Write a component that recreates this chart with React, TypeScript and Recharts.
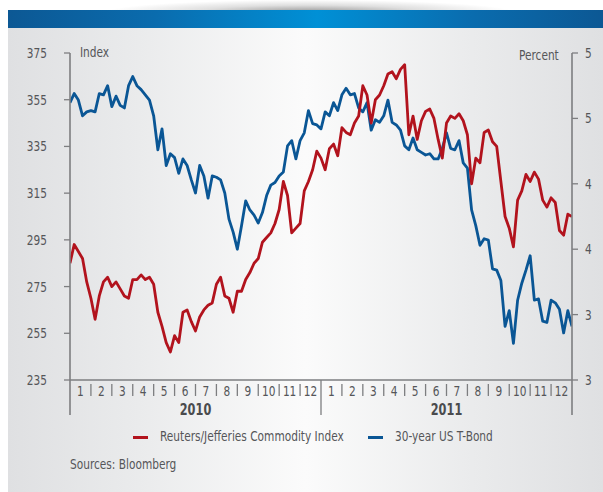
import React from 'react';
import { LineChart, Line, XAxis, YAxis } from 'recharts';

const FONT = "'DejaVu Sans Condensed', 'Liberation Sans Narrow', 'Arial Narrow', sans-serif";
const TEXT = '#555659';
const AXIS = '#7d7e80';
const RED = '#b2131d';
const BLUE = '#0a5695';
// horizontal squeeze applied to all text to get a narrow face
const SQUEEZE = 0.84;

const W = 603;
const H = 492;

const years = ['2010', '2011'];
const monthLabels = ['1', '2', '3', '4', '5', '6', '7', '8', '9', '10', '11', '12'];
const indexTicks = [235, 255, 275, 295, 315, 335, 355, 375];
const yieldTicks = [2.5, 3, 3.5, 4, 4.5, 5];

// Weekly samples (five per month) from January 2010 to December 2011
const commodityIndex = [
  285, 293, 290, 287, 277, 270, 261, 271, 277, 279,
  275, 277, 274, 271, 270, 278, 278, 280, 278, 279,
  276, 264, 258, 251, 247, 254, 251, 264, 265, 260,
  256, 262, 265, 267, 268, 276, 279, 271, 270, 264,
  273, 273, 278, 281, 285, 287, 294, 296, 298, 302,
  308, 320, 314, 298, 300, 302, 316, 320, 325, 333,
  330, 325, 334, 336, 331, 343, 341, 340, 345, 348,
  361, 357, 345, 355, 357, 361, 366, 367, 364, 368,
  370, 340, 348, 338, 346, 350, 351, 347, 338, 330,
  345, 348, 347, 349, 346, 340, 319, 330, 328, 341,
  342, 337, 335, 320, 305, 300, 292, 312, 316, 323,
  320, 324, 321, 312, 309, 313, 311, 299, 297, 306,
  305,
];

const bondYield = [
  4.62, 4.69, 4.64, 4.52, 4.55, 4.56, 4.55, 4.69, 4.68, 4.75,
  4.59, 4.67, 4.60, 4.58, 4.75, 4.82, 4.75, 4.72, 4.68, 4.64,
  4.52, 4.26, 4.42, 4.14, 4.23, 4.20, 4.08, 4.19, 4.14, 4.03,
  3.93, 4.14, 4.06, 3.89, 4.06, 4.05, 4.03, 3.93, 3.73, 3.63,
  3.50, 3.68, 3.87, 3.80, 3.76, 3.70, 3.78, 3.91, 3.99, 4.01,
  4.06, 4.09, 4.29, 4.33, 4.19, 4.33, 4.39, 4.56, 4.46, 4.45,
  4.42, 4.55, 4.52, 4.62, 4.56, 4.68, 4.73, 4.68, 4.69, 4.58,
  4.55, 4.62, 4.41, 4.49, 4.47, 4.52, 4.64, 4.47, 4.45, 4.41,
  4.29, 4.26, 4.35, 4.26, 4.24, 4.22, 4.23, 4.19, 4.19, 4.27,
  4.39, 4.27, 4.26, 4.33, 4.16, 4.12, 3.80, 3.68, 3.53, 3.58,
  3.57, 3.35, 3.34, 3.26, 2.91, 3.03, 2.78, 3.11, 3.24, 3.34,
  3.45, 3.11, 3.12, 2.95, 2.94, 3.11, 3.09, 3.04, 2.86, 3.03,
  2.91,
];

const data = commodityIndex.map((v, i) => ({
  t: i / 5,
  rj: v,
  ust: bondYield[i],
}));

// Month labels sit mid-month, dividers on month boundaries
const monthTicks: number[] = [];
for (let m = 0; m <= 24; m++) {
  monthTicks.push(m);
  if (m < 24) monthTicks.push(m + 0.5);
}

const NarrowText = ({
  x,
  y,
  anchor,
  children,
  size = 14,
  weight = 'normal',
  fill = TEXT,
}: any) => (
  <text
    transform={`translate(${x},${y}) scale(${SQUEEZE},1)`}
    textAnchor={anchor}
    fontFamily={FONT}
    fontSize={size}
    fontWeight={weight}
    fill={fill}
  >
    {children}
  </text>
);

const MonthTick = (props: any) => {
  const { x, y, payload } = props;
  const v: number = payload.value;
  if (Number.isInteger(v)) {
    const yearEdge = v % 12 === 0;
    const mid = v === 6 || v === 18;
    return (
      <g>
        <line
          x1={x}
          x2={x}
          y1={yearEdge ? y : y + 4}
          y2={yearEdge ? y + 35 : y + 16}
          stroke={AXIS}
          strokeWidth={v === 0 || v === 24 ? 1.6 : 1.3}
        />
        {mid && (
          <NarrowText x={x} y={y + 35} anchor="middle" size={15} weight="bold" fill="#4a4b4d">
            {years[v === 6 ? 0 : 1]}
          </NarrowText>
        )}
      </g>
    );
  }
  const m = Math.floor(v) % 12;
  return (
    <NarrowText x={x} y={y + 16} anchor="middle">
      {monthLabels[m]}
    </NarrowText>
  );
};

const LeftTick = (props: any) => {
  const { x, y, payload } = props;
  return (
    <NarrowText x={x} y={y + 5} anchor="end">
      {payload.value}
    </NarrowText>
  );
};

const RightTick = (props: any) => {
  const { x, y, payload } = props;
  return (
    <NarrowText x={x} y={y + 5} anchor="start">
      {String(Math.round(payload.value))}
    </NarrowText>
  );
};

const squeezed: React.CSSProperties = {
  position: 'absolute',
  fontSize: 14,
  color: TEXT,
  whiteSpace: 'nowrap',
  transform: `scaleX(${SQUEEZE})`,
  transformOrigin: '0 0',
};

const marker = (color: string, left: number): React.CSSProperties => ({
  position: 'absolute',
  left,
  top: 436,
  width: 15,
  height: 3,
  background: color,
});

export default function App() {
  return (
    <div
      style={{
        position: 'absolute',
        left: 0,
        top: 0,
        width: W,
        height: H,
        background: '#ffffff',
        overflow: 'hidden',
        fontFamily: FONT,
      }}
    >
      <div
        style={{
          position: 'absolute',
          left: 110,
          top: 0,
          width: 400,
          height: 12,
          background:
            'radial-gradient(ellipse at 50% 100%, rgba(80,80,80,0.6) 0%, rgba(150,150,150,0.3) 40%, rgba(255,255,255,0) 72%)',
        }}
      />
      <div
        style={{
          position: 'absolute',
          left: 8,
          top: 10,
          width: W - 8,
          height: 18,
          background:
            'linear-gradient(to right, #0c5894 0%, #0a6cae 25%, #0090d6 52%, #0a6cae 78%, #0c5894 100%)',
        }}
      />
      <div
        style={{
          position: 'absolute',
          left: 8,
          top: 28,
          width: W - 8,
          height: H - 28,
          background:
            'linear-gradient(to right, #dfe0e2 0%, #eaebec 22%, #fbfbfb 50%, #eaebec 78%, #dfe0e2 100%)',
        }}
      />

      <div style={{ position: 'absolute', left: 0, top: 0 }}>
        <LineChart
          width={W}
          height={H}
          data={data}
          margin={{ top: 53, right: 0, bottom: 72, left: 0 }}
        >
          <XAxis
            dataKey="t"
            type="number"
            domain={[0, 24]}
            ticks={monthTicks}
            interval={0}
            tickLine={false}
            tickSize={0}
            tickMargin={0}
            tick={<MonthTick />}
            axisLine={{ stroke: AXIS, strokeWidth: 1.6 }}
            height={40}
            allowDataOverflow
          />
          <YAxis
            yAxisId="left"
            orientation="left"
            width={70}
            domain={[235, 375]}
            ticks={indexTicks}
            interval={0}
            tickSize={6}
            tickMargin={17}
            axisLine={{ stroke: AXIS, strokeWidth: 1.6 }}
            tickLine={{ stroke: AXIS, strokeWidth: 1.3 }}
            tick={<LeftTick />}
            allowDataOverflow
          />
          <YAxis
            yAxisId="right"
            orientation="right"
            width={31}
            domain={[2.5, 5]}
            ticks={yieldTicks}
            interval={0}
            tickSize={6}
            tickMargin={7}
            axisLine={{ stroke: AXIS, strokeWidth: 1.6 }}
            tickLine={{ stroke: AXIS, strokeWidth: 1.3 }}
            tick={<RightTick />}
            allowDataOverflow
          />
          <Line
            yAxisId="right"
            type="linear"
            dataKey="ust"
            stroke={BLUE}
            strokeWidth={2.8}
            dot={false}
            isAnimationActive={false}
            strokeLinejoin="round"
          />
          <Line
            yAxisId="left"
            type="linear"
            dataKey="rj"
            stroke={RED}
            strokeWidth={2.8}
            dot={false}
            isAnimationActive={false}
            strokeLinejoin="round"
          />
        </LineChart>
      </div>

      <div style={{ ...squeezed, left: 80, top: 44 }}>Index</div>
      <div style={{ ...squeezed, left: 519, top: 47 }}>Percent</div>

      <div style={marker(RED, 133)} />
      <div style={{ ...squeezed, left: 160, top: 428 }}>Reuters/Jefferies Commodity Index</div>
      <div style={marker(BLUE, 368)} />
      <div style={{ ...squeezed, left: 395, top: 428 }}>30-year US T-Bond</div>

      <div style={{ ...squeezed, left: 70, top: 456 }}>Sources: Bloomberg</div>
    </div>
  );
}
